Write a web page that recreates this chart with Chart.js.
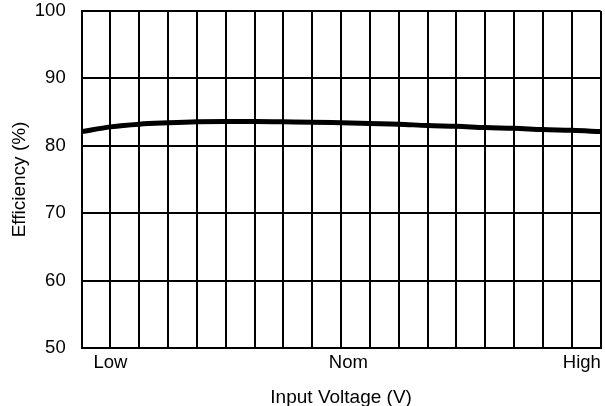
<!DOCTYPE html>
<html>
<head>
<meta charset="utf-8">
<script src="https://cdn.jsdelivr.net/npm/chart.js@4/dist/chart.umd.min.js"></script>
<style>
    html, body { margin: 0; padding: 0; background: #fff; }
    #wrap { width: 605px; height: 406px; }
</style>
</head>
<body>
<div id="wrap"><canvas id="effChart"></canvas></div>
<script>
// Data: one point per vertical grid line (0..18)
const gridSteps = [0, 1, 2, 3, 4, 5, 6, 7, 8, 9, 10, 11, 12, 13, 14, 15, 16, 17, 18];
const efficiency = [82.1, 82.8, 83.2, 83.4, 83.55, 83.6, 83.6, 83.55, 83.5, 83.4,
                    83.3, 83.2, 83.0, 82.9, 82.7, 82.6, 82.4, 82.3, 82.1];

// Input voltage labels and where they sit along the grid
const voltageLabels = ['Low', 'Nom', 'High'];
const voltageTickAt = [1, 9.25, 17.35];

const yTicks = [50, 60, 70, 80, 90, 100];

const fontFamily = 'Arial, "Liberation Sans", sans-serif';

document.addEventListener('DOMContentLoaded', function() {
    const points = gridSteps.map((x, i) => ({ x: x, y: efficiency[i] }));

    new Chart(document.getElementById('effChart'), {
        type: 'line',
        data: {
            datasets: [{
                label: 'Efficiency',
                data: points,
                xAxisID: 'x',
                yAxisID: 'y',
                borderColor: '#000',
                borderWidth: 5,
                pointRadius: 0,
                tension: 0.4,
                cubicInterpolationMode: 'monotone',
                fill: false
            }]
        },
        options: {
            responsive: true,
            maintainAspectRatio: false,
            animation: false,
            layout: {
                padding: { left: 4, right: 2, top: 11, bottom: 0 }
            },
            plugins: {
                legend: { display: false },
                tooltip: { enabled: false }
            },
            scales: {
                x: {
                    type: 'linear',
                    position: 'bottom',
                    min: gridSteps[0],
                    max: gridSteps[gridSteps.length - 1],
                    ticks: { display: false, stepSize: 1 },
                    grid: { color: '#000', lineWidth: 2, drawTicks: false },
                    border: { color: '#000', width: 2 }
                },
                x2: {
                    type: 'linear',
                    position: 'bottom',
                    min: gridSteps[0],
                    max: gridSteps[gridSteps.length - 1],
                    afterBuildTicks: function(scale) {
                        scale.ticks = voltageTickAt.map(v => ({ value: v }));
                    },
                    ticks: {
                        color: '#000',
                        padding: 4,
                        maxRotation: 0,
                        autoSkip: false,
                        font: { family: fontFamily, size: 18.5 },
                        callback: function(value, index) {
                            return voltageLabels[index];
                        }
                    },
                    grid: { display: false, drawTicks: false },
                    border: { display: false },
                    title: {
                        display: true,
                        text: 'Input Voltage (V)',
                        color: '#000',
                        font: { family: fontFamily, size: 19, lineHeight: 1.1 },
                        padding: { top: 9, bottom: -2 }
                    }
                },
                y: {
                    min: 50,
                    max: 100,
                    afterBuildTicks: function(scale) {
                        scale.ticks = yTicks.map(v => ({ value: v }));
                    },
                    // tick padding also pads the ends of the axis; let the layout padding decide instead
                    afterFit: function(scale) {
                        scale.paddingTop = 0;
                        scale.paddingBottom = 0;
                    },
                    ticks: {
                        color: '#000',
                        padding: 16,
                        font: { family: fontFamily, size: 18.5 }
                    },
                    grid: { color: '#000', lineWidth: 2, drawTicks: false },
                    border: { color: '#000', width: 2 },
                    title: {
                        display: true,
                        text: 'Efficiency (%)',
                        color: '#000',
                        font: { family: fontFamily, size: 19, lineHeight: 1.2 },
                        padding: { top: 4, bottom: -12 }
                    }
                }
            }
        }
    });
});
</script>
</body>
</html>
